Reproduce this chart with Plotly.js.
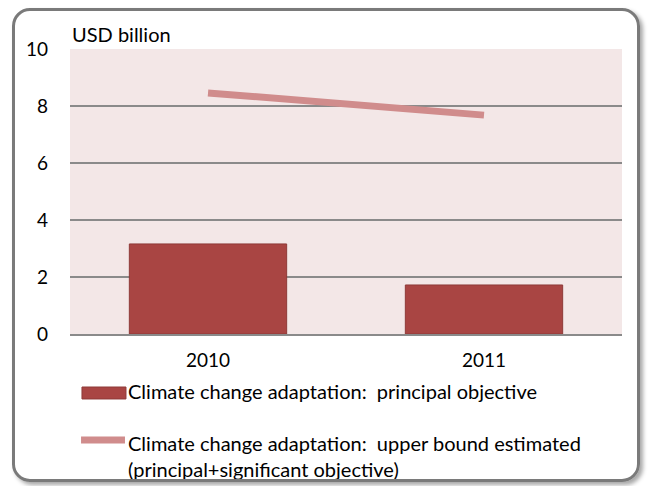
<!DOCTYPE html>
<html>
<head>
<meta charset="utf-8">
<script src="https://cdn.plot.ly/plotly-3.0.1.min.js"></script>
<style>
  html, body { margin: 0; padding: 0; background: #ffffff; }
  #wrap { position: relative; width: 653px; height: 486px; }
  #chart { position: absolute; left: 0; top: 0; width: 653px; height: 486px; }
  #frame { position: absolute; left: 12px; top: 8px; width: 622px; height: 468px;
           border: 3px solid #7a7a7a; border-radius: 18px;
           box-shadow: 3px 3px 4px rgba(0,0,0,0.35); pointer-events: none; }
</style>
</head>
<body>
<div id="wrap">
  <div id="chart"></div>
  <div id="frame"></div>
</div>
<script>
const categories = ["2010", "2011"];
const principalValues = [3.16, 1.72];
const upperBoundValues = [8.46, 7.68];
const seriesNames = [
  "Climate change adaptation:  principal objective",
  "Climate change adaptation:  upper bound estimated<br>(principal+significant objective)"
];
const yTicks = [0, 2, 4, 6, 8, 10];
const unitLabel = "USD billion";

const barColor = "#A94543";
const lineColor = "#D08C8C";
const fontFam = "Lato, 'Open Sans', sans-serif";

const traces = [
  {
    type: "bar", x: categories, y: principalValues, name: seriesNames[0],
    width: 0.57,
    marker: { color: barColor, line: { color: "#8E3A38", width: 1 } },
    showlegend: false, hoverinfo: "skip"
  },
  {
    type: "scatter", mode: "lines", x: categories, y: upperBoundValues, name: seriesNames[1],
    line: { color: lineColor, width: 7 },
    showlegend: false, hoverinfo: "skip"
  }
];

const layout = {
  width: 653, height: 486,
  margin: { l: 70, r: 31, t: 49, b: 152 },
  paper_bgcolor: "#ffffff",
  plot_bgcolor: "#F3E7E7",
  font: { family: fontFam, size: 18, color: "#000000" },
  xaxis: {
    type: "category", showgrid: false, zeroline: false,
    showline: true, linecolor: "#8a8a8a", linewidth: 2,
    ticks: "", ticklabelstandoff: 8,
    tickfont: { family: fontFam, size: 19 }
  },
  yaxis: {
    range: [0, 10], tickvals: yTicks, ticktext: yTicks.map(String),
    showgrid: true, gridcolor: "#8a8a8a", gridwidth: 1.2,
    zeroline: false, showline: false, ticks: "",
    ticklabelstandoff: 21,
    tickfont: { family: fontFam, size: 19 }
  },
  shapes: [
    { type: "rect", xref: "paper", yref: "paper", x0: 0.0217, x1: 0.1014, y0: -0.186, y1: -0.228,
      fillcolor: barColor, line: { color: "#8E3A38", width: 1 } },
    { type: "line", xref: "paper", yref: "paper", x0: 0.02, x1: 0.0996, y0: -0.372, y1: -0.372,
      line: { color: lineColor, width: 7 } }
  ],
  annotations: [
    { text: unitLabel, xref: "paper", yref: "paper", x: 0.0, y: 1.005, xanchor: "left", yanchor: "bottom",
      showarrow: false, font: { family: fontFam, size: 20 } },
    { text: seriesNames[0], xref: "paper", yref: "paper", x: 0.102, y: -0.2, xanchor: "left", yanchor: "middle",
      showarrow: false, align: "left", font: { family: fontFam, size: 20 } },
    { text: seriesNames[1], xref: "paper", yref: "paper", x: 0.102, y: -0.427, xanchor: "left", yanchor: "middle",
      showarrow: false, align: "left", font: { family: fontFam, size: 20 } }
  ]
};

Plotly.newPlot("chart", traces, layout, { staticPlot: true, displayModeBar: false });
</script>
</body>
</html>
